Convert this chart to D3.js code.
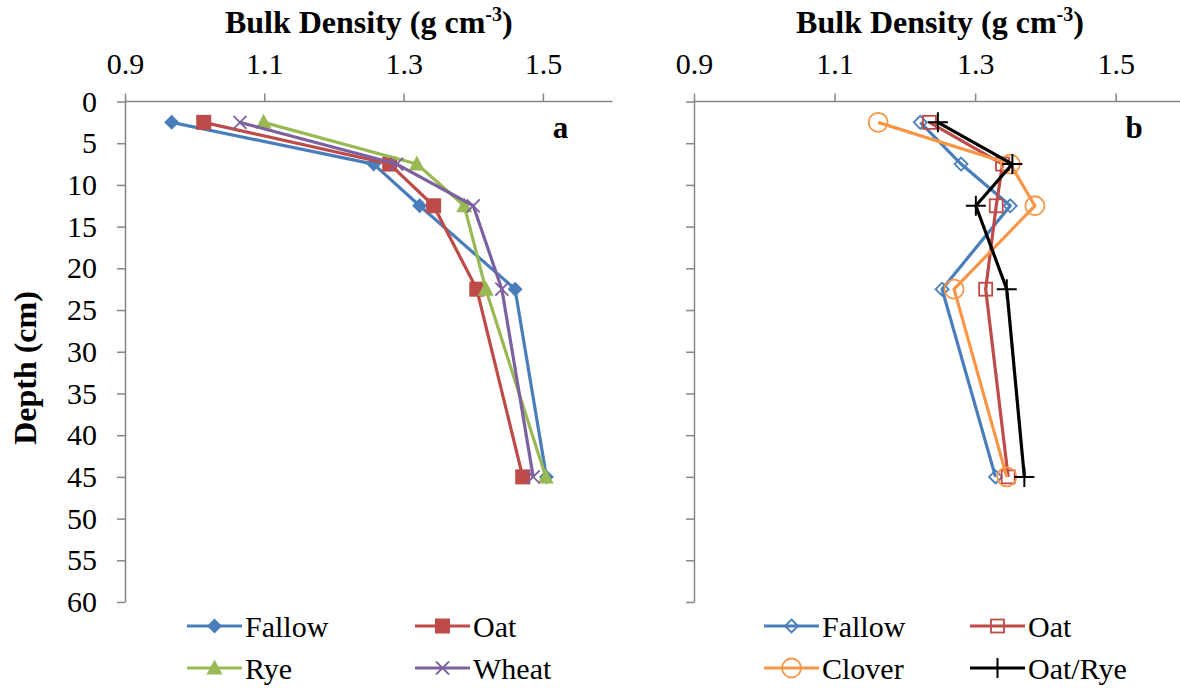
<!DOCTYPE html>
<html><head><meta charset="utf-8">
<script src="https://cdn.jsdelivr.net/npm/d3@7"></script>
<style>
html,body{margin:0;padding:0;background:#fff;}
svg{display:block;font-family:"Liberation Serif","Times New Roman",serif;}
</style></head>
<body><svg id="c" width="1180" height="688"></svg>
<script>
const depths = [2.5, 7.5, 12.5, 22.5, 45];
const xTicks = [0.9, 1.1, 1.3, 1.5];
const yTicks = [0,5,10,15,20,25,30,35,40,45,50,55,60];

// Panel a
const aFallow = [0.967, 1.257, 1.323, 1.460, 1.505];
const aOat    = [1.013, 1.280, 1.343, 1.405, 1.471];
const aRye    = [1.099, 1.319, 1.387, 1.418, 1.504];
const aWheat  = [1.065, 1.290, 1.400, 1.441, 1.486];
// Panel b
const bFallow = [1.222, 1.280, 1.350, 1.253, 1.329];
const bOat    = [1.235, 1.339, 1.330, 1.315, 1.347];
const bClover = [1.162, 1.350, 1.385, 1.270, 1.345];
const bOatRye = [1.247, 1.353, 1.301, 1.345, 1.370];

const seriesA = [
  {name:"Fallow", vals:aFallow, color:"#4A7EBB", marker:"diamondF"},
  {name:"Oat", vals:aOat, color:"#BE4B48", marker:"squareF"},
  {name:"Rye", vals:aRye, color:"#98B954", marker:"triangleF"},
  {name:"Wheat", vals:aWheat, color:"#7D60A0", marker:"x"}
];
const seriesB = [
  {name:"Fallow", vals:bFallow, color:"#4A7EBB", marker:"diamondO"},
  {name:"Oat", vals:bOat, color:"#BE4B48", marker:"squareO"},
  {name:"Clover", vals:bClover, color:"#F79646", marker:"circleO"},
  {name:"Oat/Rye", vals:bOatRye, color:"#000000", marker:"plus"}
];

const svg = d3.select("#c");
const axisColor = "#868686";
const yScale = d3.scaleLinear().domain([0,60]).range([101.5,602]);

function drawMarker(g, type, x, y, color){
  const s = 7.5;
  switch(type){
    case "diamondF":
      g.append("path").attr("d",`M${x},${y-s}L${x+s},${y}L${x},${y+s}L${x-s},${y}Z`).attr("fill",color); break;
    case "squareF":
      g.append("rect").attr("x",x-7.5).attr("y",y-7.5).attr("width",15).attr("height",15).attr("fill",color); break;
    case "triangleF":
      g.append("path").attr("d",`M${x},${y-8.5}L${x+8},${y+6.5}L${x-8},${y+6.5}Z`).attr("fill",color); break;
    case "x":
      g.append("path").attr("d",`M${x-6.5},${y-6.5}L${x+6.5},${y+6.5}M${x-6.5},${y+6.5}L${x+6.5},${y-6.5}`).attr("stroke",color).attr("stroke-width",1.8).attr("fill","none"); break;
    case "diamondO":
      g.append("path").attr("d",`M${x},${y-6.5}L${x+6.5},${y}L${x},${y+6.5}L${x-6.5},${y}Z`).attr("fill","none").attr("stroke",color).attr("stroke-width",1.8); break;
    case "squareO":
      g.append("rect").attr("x",x-6.5).attr("y",y-6.5).attr("width",13).attr("height",13).attr("fill","none").attr("stroke",color).attr("stroke-width",1.8); break;
    case "circleO":
      g.append("circle").attr("cx",x).attr("cy",y).attr("r",9.5).attr("fill","none").attr("stroke",color).attr("stroke-width",1.8); break;
    case "plus":
      g.append("path").attr("d",`M${x-10},${y}L${x+10},${y}M${x},${y-10}L${x},${y+10}`).attr("stroke",color).attr("stroke-width",2).attr("fill","none"); break;
  }
}

function panel(x0, x1, series, letter, showYLabels, legendX){
  const x = d3.scaleLinear().domain([0.9,1.6]).range([x0,x1]);
  // x axis (top)
  const gx = svg.append("g").attr("transform",`translate(0,${yScale(0)})`)
    .call(d3.axisTop(x).tickValues(xTicks).tickSize(8).tickPadding(19.5).tickFormat(d3.format(".1f")));
  gx.select(".domain").attr("stroke",axisColor).attr("stroke-width",1.5);
  gx.selectAll(".tick line").attr("stroke",axisColor).attr("stroke-width",1.5);
  gx.selectAll("text").attr("font-size",30).attr("fill","#000").attr("font-family","Liberation Serif");
  // y axis
  const gy = svg.append("g").attr("transform",`translate(${x0},0)`)
    .call(d3.axisLeft(yScale).tickValues(yTicks).tickSize(8).tickPadding(20).tickSizeOuter(0));
  gy.select(".domain").attr("stroke",axisColor).attr("stroke-width",1.5);
  gy.selectAll(".tick line").attr("stroke",axisColor).attr("stroke-width",1.5);
  gy.selectAll("text").attr("font-size",30).attr("fill","#000").attr("font-family","Liberation Serif");
  if(!showYLabels) gy.selectAll("text").remove();
  gx.select(".domain").attr("d",`M${x0},0H${x1}`);

  // title
  const t = svg.append("text").attr("x",(x0+x1)/2).attr("y",33).attr("text-anchor","middle")
    .attr("font-size",32).attr("font-weight","bold");
  t.append("tspan").text("Bulk Density (g cm");
  t.append("tspan").text("-3").attr("font-size",20).attr("dy",-12);
  t.append("tspan").text(")").attr("dy",12);

  const line = d3.line().x(d=>x(d[0])).y(d=>yScale(d[1]));
  series.forEach(s=>{
    const pts = s.vals.map((v,i)=>[v,depths[i]]);
    svg.append("path").datum(pts).attr("d",line).attr("fill","none")
      .attr("stroke",s.color).attr("stroke-width",3.2).attr("stroke-linejoin","round");
    const mg = svg.append("g");
    pts.forEach(p=>drawMarker(mg, s.marker, x(p[0]), yScale(p[1]), s.color));
  });

  svg.append("text").attr("x",x(1.6)-52).attr("y",138).attr("text-anchor","middle")
    .attr("font-size",31).attr("font-weight","bold").text(letter);

  // legend
  const rows=[626,668];
  series.forEach((s,i)=>{
    const lx = legendX[i%2], ly = rows[Math.floor(i/2)];
    svg.append("line").attr("x1",lx).attr("x2",lx+55).attr("y1",ly).attr("y2",ly)
      .attr("stroke",s.color).attr("stroke-width",3.2);
    const mg = svg.append("g");
    drawMarker(mg, s.marker, lx+27.5, ly, s.color);
    svg.append("text").attr("x",lx+58).attr("y",ly+10.5).attr("font-size",30).text(s.name);
  });
}

panel(125, 612.6, seriesA, "a", true, [187, 415]);
panel(694, 1186, seriesB, "b", false, [764, 970]);

svg.append("text").attr("transform","translate(36,368) rotate(-90)").attr("text-anchor","middle")
  .attr("font-size",32).attr("font-weight","bold").text("Depth (cm)");
</script></body></html>
